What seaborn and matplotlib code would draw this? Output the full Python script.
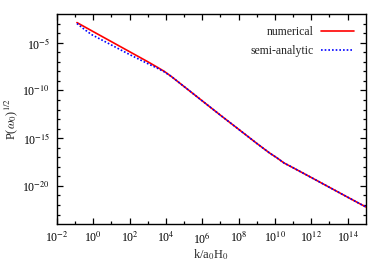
import matplotlib
matplotlib.use("Agg")
import matplotlib.pyplot as plt
import matplotlib.ticker as mticker
import seaborn as sns
import pandas as pd
import numpy as np

# log10 values
num_logk = [-0.9, 0.0, 1.0, 2.0, 3.0, 3.5, 3.9, 4.3, 5.0, 6.0, 7.0, 8.0, 9.0, 9.7, 10.1, 10.5, 11.0, 12.0, 13.0, 14.0, 15.0]
num_logP = [-2.9, -3.85, -4.9, -5.95, -7.0, -7.55, -8.0, -8.55, -9.6, -11.1, -12.6, -14.07, -15.55, -16.55, -17.05, -17.6, -18.1, -19.12, -20.15, -21.18, -22.2]

semi_logk = [-0.9, -0.5, -0.1, 1.0, 2.0, 3.0, 3.5, 3.9, 4.3, 5.0, 6.0, 7.0, 8.0, 9.0, 9.7, 10.1, 10.5, 11.0, 12.0, 13.0, 14.0, 15.0]
semi_logP = [-3.0, -3.6, -4.15, -5.25, -6.25, -7.2, -7.65, -8.05, -8.55, -9.6, -11.1, -12.6, -14.07, -15.55, -16.55, -17.05, -17.6, -18.1, -19.12, -20.15, -21.18, -22.2]

xticks_exp = [-2, 0, 2, 4, 6, 8, 10, 12, 14]
yticks_exp = [-5, -10, -15, -20]

df = pd.concat([
    pd.DataFrame({"k": 10.0 ** np.array(num_logk), "P": 10.0 ** np.array(num_logP), "series": "numerical"}),
    pd.DataFrame({"k": 10.0 ** np.array(semi_logk), "P": 10.0 ** np.array(semi_logP), "series": "semi-analytic"}),
])

sns.set_style("ticks")
plt.rcParams["font.family"] = ["Liberation Serif", "DejaVu Serif"]
plt.rcParams["mathtext.fontset"] = "stix"

fig = plt.figure(figsize=(3.9, 2.74), dpi=100)
ax = fig.add_axes([0.146, 0.182, 0.792, 0.767])

sns.lineplot(data=df, x="k", y="P", hue="series", style="series",
             palette={"numerical": "#ff0000", "semi-analytic": "#0000ff"},
             dashes={"numerical": "", "semi-analytic": (1, 1.2)},
             sort=False, estimator=None, linewidth=1.2, ax=ax)

ax.set_xscale("log")
ax.set_yscale("log")
ax.set_xlim(1e-2, 1e15)
ax.set_ylim(1e-24, 1e-2)

ax.xaxis.set_major_locator(mticker.FixedLocator([10.0 ** e for e in xticks_exp]))
ax.xaxis.set_minor_locator(mticker.FixedLocator([10.0 ** e for e in range(-1, 15, 2)]))
ax.yaxis.set_major_locator(mticker.FixedLocator([10.0 ** e for e in yticks_exp]))
ax.yaxis.set_minor_locator(mticker.FixedLocator([10.0 ** e for e in range(-23, -2)]))
fmt = mticker.FuncFormatter(lambda v, p: r"10$^{%d}$" % int(round(np.log10(v))))
ax.xaxis.set_major_formatter(fmt)
ax.yaxis.set_major_formatter(fmt)
ax.xaxis.set_minor_formatter(mticker.NullFormatter())
ax.yaxis.set_minor_formatter(mticker.NullFormatter())

ax.tick_params(which="both", direction="in", top=True, right=True, labelsize=8.5, colors="black")
ax.tick_params(which="major", length=4.5, width=0.9, pad=5)
ax.tick_params(which="minor", length=2.5, width=0.9)
for s in ax.spines.values():
    s.set_linewidth(1.0)
    s.set_color("black")
    s.set_visible(True)

ax.set_xlabel(r"k/a$_0$H$_0$", fontsize=9, labelpad=1)
ax.set_ylabel(r"P($\omega_0$)$^{1/2}$", fontsize=9, labelpad=2)

leg = ax.legend(loc="upper right", frameon=False, markerfirst=False, fontsize=8.5,
                handlelength=2.8, handletextpad=0.6, borderaxespad=0.6, labelspacing=0.6)

fig.savefig("out.png", dpi=100)
